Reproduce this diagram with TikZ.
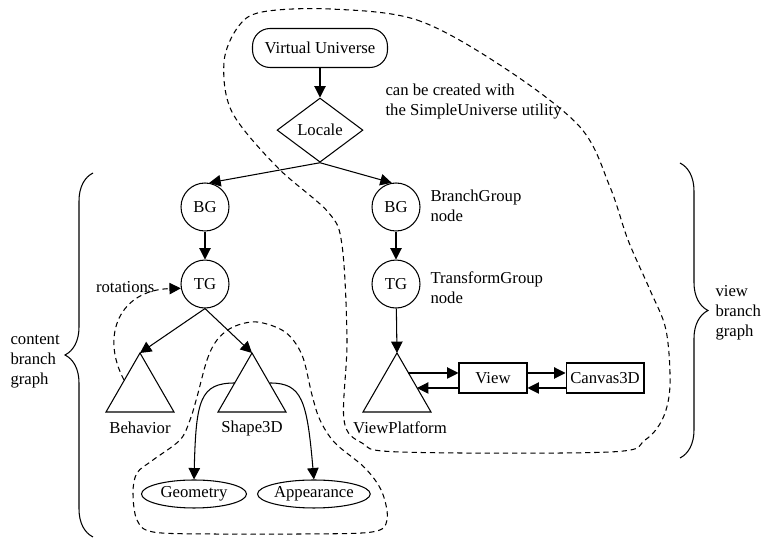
\documentclass[tikz,border=0pt]{standalone}
\usepackage{fontspec}
\setmainfont{Liberation Serif}
\usetikzlibrary{arrows.meta,positioning,shapes.geometric,decorations.pathreplacing}

\begin{document}
\begin{tikzpicture}[x=0.02cm,y=-0.02cm,font=\fontsize{9.5}{11.4}\selectfont,line width=0.6pt,
  pill/.style={draw,rounded corners=10pt,minimum width=2.7cm,minimum height=0.78cm},
  dmd/.style={draw,diamond,minimum width=1.72cm,minimum height=1.2cm,inner sep=1pt},
  grp/.style={draw,circle,minimum size=0.96cm,inner sep=0pt},
  leaf/.style={draw,ellipse,minimum width=2.1cm,minimum height=0.56cm,inner sep=0pt},
  obj/.style={draw,minimum height=0.6cm,inner sep=2pt},
  note/.style={align=left,anchor=west,inner sep=0pt},
  ar/.style={-{Triangle[length=6.5pt,width=6.5pt]}},
  zone/.style={dash pattern=on 3pt off 2.2pt},
  brc/.style={decorate,decoration={brace,amplitude=0.56cm}}]
\useasboundingbox (0,0) rectangle (762,546);

% scene graph root
\node[pill] (vu) at (320,48) {Virtual Universe};
\node[dmd,below=0.59cm of vu] (loc) {Locale};
\node[note] (hint) at (385,102) {can be created with\\the SimpleUniverse utility};

% content branch
\node[grp] (bgl) at (205,207) {BG};
\node[grp,below=0.56cm of bgl] (tgl) {TG};
\coordinate (beh) at (140,353);
\coordinate (shp) at (252,353);
\draw (beh) -- ++(-34,59) -- ++(68,0) -- cycle;
\draw (shp) -- ++(-34,59) -- ++(68,0) -- cycle;
\node (behl) at (140,428) {Behavior};
\node (shpl) at (252,428) {Shape3D};
\coordinate (behs) at (124,380);
\coordinate (s3l) at (235,383);
\coordinate (s3r) at (270,383);
\node[leaf] (geo) at (194,494) {Geometry};
\node[leaf,right=0.2cm of geo] (app) {Appearance};
\node[anchor=east,inner sep=0pt] (rot) at (155,287) {rotations};

% view branch
\node[grp] (bgr) at (396,207) {BG};
\node[grp,below=0.56cm of bgr] (tgr) {TG};
\node[note] (bgtxt) at (430,206) {BranchGroup\\node};
\node[note] (tgtxt) at (430,288) {TransformGroup\\node};
\coordinate (vp) at (397,353);
\draw (vp) -- ++(-34,59) -- ++(68,0) -- cycle;
\node (vpl) at (400,428) {ViewPlatform};
\coordinate (vp1) at (408,373);
\coordinate (vp2) at (417,388);
\node[obj,minimum width=1.36cm] (view) at (493,378) {View};
\node[obj,minimum width=1.56cm,right=0.76cm of view] (cnv) {Canvas3D};

% edges
\draw[ar] (vu) -- (loc);
\draw[ar] (loc.south) -- (bgl.80);
\draw[ar] (loc.south) -- (bgr.100);
\draw[ar] (bgl) -- (tgl);
\draw[ar] (bgr) -- (tgr);
\draw[ar] (tgl.south) -- (beh);
\draw[ar] (tgl.south) -- (shp);
\draw[ar] (tgr) -- (vp);
\draw[ar] (s3l) .. controls (200,383) and (196,400) .. (geo.north);
\draw[ar] (s3r) .. controls (302,383) and (307,400) .. (app.north);
\draw[ar] (vp1) -- (vp1 -| view.west);
\draw[ar] (view.west |- vp2) -- (vp2);
\draw[ar] (view.east |- vp1) -- (vp1 -| cnv.west);
\draw[ar] (cnv.west |- vp2) -- (vp2 -| view.east);
\draw[ar,zone] (behs) .. controls (100,335) and (120,290) .. (tgl.190);

% dashed regions
\draw[zone] plot[smooth cycle,tension=0.55] coordinates {(330,9) (417,20) (503,67) (580,127)
  (610,187) (628,240) (650,290) (666,330) (670,385) (663,418) (645,440) (610,452) (400,452)
  (362,443) (344,420) (347,340) (342,245) (328,212) (277,167) (232,112) (224,62) (238,27) (262,12)};
\draw[zone] plot[smooth cycle,tension=0.55] coordinates {(197,397) (207,360) (217,340) (233,327)
  (257,322) (285,332) (302,355) (312,395) (320,420) (335,443) (365,468) (382,492) (387,520)
  (372,532) (300,534) (213,534) (153,532) (137,520) (133,493) (137,473) (153,460) (180,440) (190,420)};

% braces
\draw[brc] (93,537) -- (93,173);
\draw[brc] (680,163) -- (680,458);
\node[note] (cbg) at (10,362) {content\\branch\\graph};
\node[note] (vbg) at (715,313) {view\\branch\\graph};
\end{tikzpicture}
\end{document}
